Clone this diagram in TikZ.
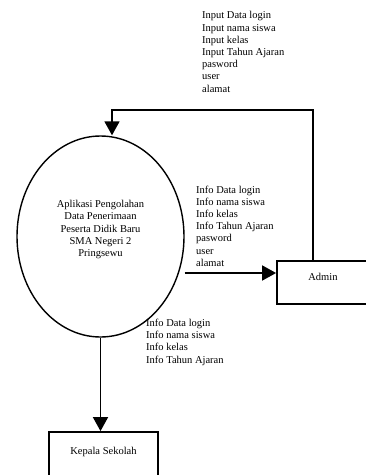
\documentclass[tikz,border=0pt]{standalone}
\usepackage{fontspec}
\setmainfont{Liberation Serif}
\usetikzlibrary{arrows.meta,shapes,calc}
\tikzset{
	proc/.style={
		draw,ellipse,line width=1.4pt,align=center,
		minimum width=167pt,minimum height=201pt,
		text depth=16pt},
	entity/.style={
		draw,rectangle,line width=1.8pt,
		text height=7pt,text depth=12pt},
	flow/.style={
		line width=1.8pt,-{Triangle[width=15pt,length=14pt]}},
	lbl/.style={
		align=left,anchor=north west,inner sep=0pt}
}
\def\dfdfont{\fontsize{10.5}{12.2}\selectfont}

\begin{document}
\begin{tikzpicture}[x=1pt,y=-1pt,font=\dfdfont]
	\useasboundingbox (0,0) rectangle (365,475);
	% proses utama dan entitas luar
	\node[proc] (proc) at (100.5,236.5) {Aplikasi Pengolahan\\Data Penerimaan\\Peserta Didik Baru\\SMA Negeri 2\\Pringsewu};
	\node[entity,minimum width=92pt,minimum height=43pt] (admin) at (323,282.5) {Admin};
	\node[entity,minimum width=109pt,minimum height=44pt,text depth=6pt] (kepsek) at (103.5,454) {Kepala Sekolah};
	% aliran data
	\coordinate (ain) at ($(admin.west)+(0,-9.5)$);
	\coordinate (aout) at ($(admin.north)+(-10,0)$);
	\coordinate (turn) at ($(aout)+(0,-150)$);
	\coordinate (pin) at ($(proc.north)+(11.5,0)$);
	\draw[flow] (proc.east |- ain) -- (ain);
	\draw[flow] (aout) -- (turn) -| (pin);
	\draw[flow] (proc.south) -- (proc.south |- kepsek.north);
	% label aliran
	\node[lbl] (inlbl) at (202,11.5) {Input Data login\\Input nama siswa\\Input kelas\\Input Tahun Ajaran\\pasword\\user\\alamat};
	\node[lbl] (adminlbl) at (196,185.5) {Info Data login\\Info nama siswa\\Info kelas\\Info Tahun Ajaran\\pasword\\user\\alamat};
	\node[lbl] (kepseklbl) at (146,319) {Info Data login\\Info nama siswa\\Info kelas\\Info Tahun Ajaran};
\end{tikzpicture}
\end{document}
